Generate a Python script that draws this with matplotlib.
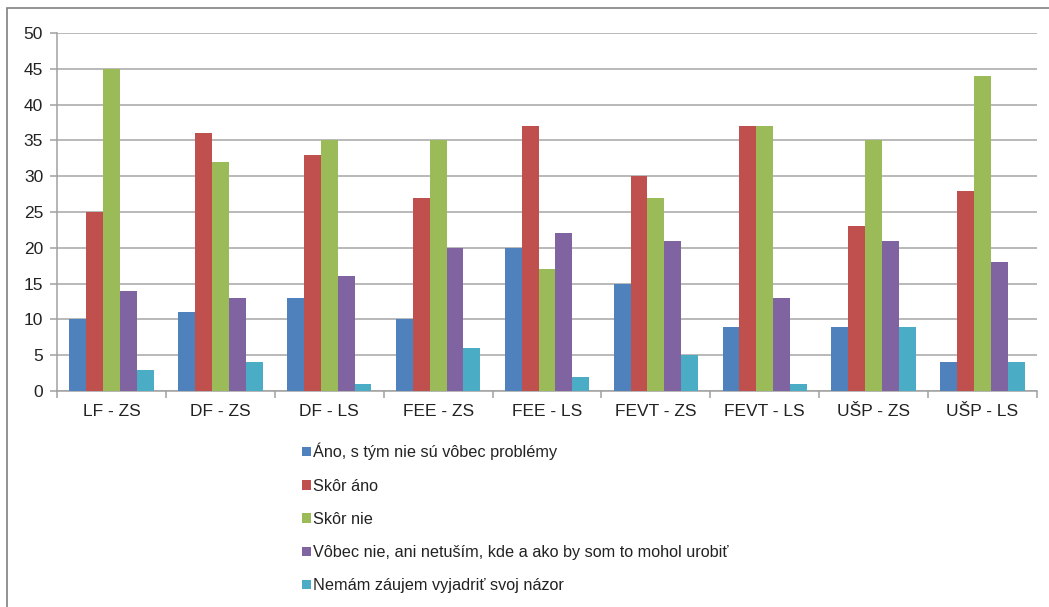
import matplotlib
matplotlib.use("Agg")
import matplotlib.pyplot as plt
import numpy as np
from matplotlib.patches import Rectangle, Patch

plt.rcParams['font.family'] = ['Liberation Sans', 'DejaVu Sans']

categories = ["LF - ZS", "DF - ZS", "DF - LS", "FEE - ZS", "FEE - LS",
              "FEVT - ZS", "FEVT - LS", "UŠP - ZS", "UŠP - LS"]
series_names = ["Áno, s tým nie sú vôbec problémy",
                "Skôr áno",
                "Skôr nie",
                "Vôbec nie, ani netuším, kde a ako by som to mohol urobiť",
                "Nemám záujem vyjadriť svoj názor"]
ano = [10, 11, 13, 10, 20, 15, 9, 9, 4]
skor_ano = [25, 36, 33, 27, 37, 30, 37, 23, 28]
skor_nie = [45, 32, 35, 35, 17, 27, 37, 35, 44]
vobec_nie = [14, 13, 16, 20, 22, 21, 13, 21, 18]
nemam = [3, 4, 1, 6, 2, 5, 1, 9, 4]
yticks = [0, 5, 10, 15, 20, 25, 30, 35, 40, 45, 50]

colors = ["#4F81BD", "#C0504D", "#9BBB59", "#8064A2", "#4BACC6"]
series = [ano, skor_ano, skor_nie, vobec_nie, nemam]

W, H = 1049, 607
fig = plt.figure(figsize=(W / 100, H / 100), dpi=100)
fig.patch.set_facecolor("white")

# outer chart frame
fig.add_artist(Rectangle((7 / W, -0.01), 1.05, 1 - 8 / H + 0.01, transform=fig.transFigure,
                         fill=False, edgecolor="#808080", linewidth=1.2))

left, right, top, bottom = 57, 1037, 33, 391
ax = fig.add_axes([left / W, 1 - bottom / H, (right - left) / W, (bottom - top) / H])

x = np.arange(len(categories))
bw = 0.155
for i, (vals, c) in enumerate(zip(series, colors)):
    ax.bar(x + (i - 2) * bw, vals, width=bw, color=c, edgecolor="none", zorder=3)

ax.set_xlim(-0.5, len(categories) - 0.5)
ax.set_ylim(0, 50)
ax.set_yticks(yticks)
ax.yaxis.grid(True, color="#A6A6A6", linewidth=1.1, zorder=0)
ax.set_axisbelow(True)

for s in ["top", "right"]:
    ax.spines[s].set_visible(False)
for s in ["left", "bottom"]:
    ax.spines[s].set_color("#A0A0A0")
    ax.spines[s].set_linewidth(1.1)

ax.set_xticks(x)
ax.set_xticklabels(categories)
ax.set_xticks(np.arange(-0.5, len(categories) + 0.5, 1), minor=True)
ax.tick_params(axis="x", which="major", length=0, pad=9, labelsize=12.5, labelcolor="#222222")
ax.tick_params(axis="x", which="minor", length=5, color="#A0A0A0", width=1.1, direction="out")
ax.tick_params(axis="y", length=5, color="#A0A0A0", width=1.1, labelsize=12.5,
               labelcolor="#222222", pad=5)

handles = [Patch(facecolor=c, edgecolor="none") for c in colors]
fig.legend(handles, series_names, loc="upper left",
           bbox_to_anchor=(302 / W, 1 - 443 / H), frameon=False,
           fontsize=11.7, handlelength=0.55, handleheight=0.5, handletextpad=0.15,
           labelspacing=1.12, borderpad=0, borderaxespad=0, labelcolor="#222222")

fig.savefig("out.png", dpi=100)
